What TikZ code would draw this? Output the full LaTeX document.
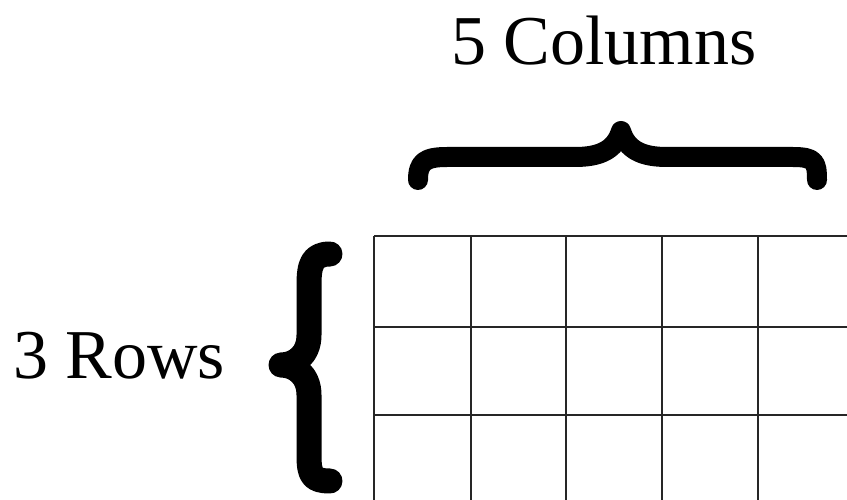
\documentclass[tikz,border=0pt]{standalone}
\usepackage{fontspec}
\setmainfont{Liberation Serif}
\begin{document}
\begin{tikzpicture}[x=1pt,y=-1pt,
  lbl/.style={inner sep=0pt,anchor=base west,font=\fontsize{70}{80}\selectfont},
  gridline/.style={draw=black!85,line width=1.8pt},
  bracestroke/.style={draw=black,line cap=round,line join=round}]
\useasboundingbox[fill=white] (0,0) rectangle (847,500);
\begin{scope}
\clip (0,0) rectangle (847,500);
\foreach \x in {374,471,566,662,758,854} \draw[gridline] (\x,236) -- (\x,510);
\foreach \y in {236,327,415,505} \draw[gridline] (374,\y) -- (860,\y);
\end{scope}
\node[lbl] (cols) at (451,65) {5 Columns};
\node[lbl] (rows) at (13,378) {3 Rows};
% top brace
\draw[bracestroke,line width=20pt] (418,180) .. controls (418,162) and (425,157) .. (447,157) -- (575,157) .. controls (600,157) and (615,150) .. (621,131) .. controls (627,150) and (642,157) .. (667,157) -- (793,157) .. controls (815,157) and (817,162) .. (817,180);
% left brace
\draw[bracestroke,line width=25pt] (330,254) .. controls (312,254) and (309,265) .. (309,285) -- (309,335) .. controls (309,355) and (295,365) .. (281,365) .. controls (295,365) and (309,375) .. (309,395) -- (309,455) .. controls (309,475) and (312,481) .. (330,481);
\end{tikzpicture}
\end{document}
